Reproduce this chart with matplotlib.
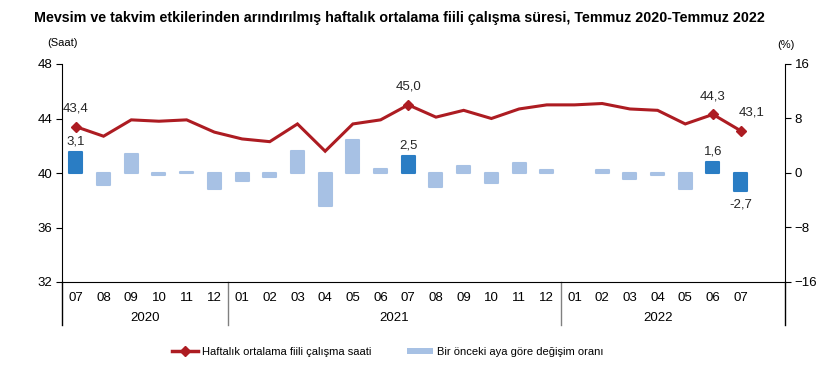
import matplotlib
matplotlib.use("Agg")
import matplotlib.pyplot as plt
import matplotlib.transforms as mtransforms
from matplotlib.lines import Line2D
from matplotlib.patches import Patch

plt.rcParams['font.family'] = ['Liberation Sans', 'DejaVu Sans']

# data
months = ['07', '08', '09', '10', '11', '12',
          '01', '02', '03', '04', '05', '06', '07', '08', '09', '10', '11', '12',
          '01', '02', '03', '04', '05', '06', '07']
years = ['2020', '2021', '2022']
year_spans = [(0, 6), (6, 18), (18, 25)]
hours = [43.4, 42.7, 43.9, 43.8, 43.9, 43.0, 42.5, 42.3, 43.6, 41.6, 43.6, 43.9,
         45.0, 44.1, 44.6, 44.0, 44.7, 45.0, 45.0, 45.1, 44.7, 44.6, 43.6, 44.3, 43.1]
change = [3.1, -1.7, 2.8, -0.3, 0.2, -2.3, -1.2, -0.6, 3.2, -4.8, 4.9, 0.6,
          2.5, -2.1, 1.0, -1.4, 1.5, 0.5, 0.0, 0.4, -0.9, -0.3, -2.3, 1.6, -2.7]
highlight = [0, 12, 23, 24]

line_col = '#AD1C22'
dark_bar = '#2A7DC4'
light_bar = '#A7C1E4'
txt_col = '#262626'

fig = plt.figure(figsize=(8.4, 3.87), dpi=100)
ax = fig.add_axes([62/840, 1-282/387, (785-62)/840, 218/387])
ax2 = ax.twinx()
ax.set_zorder(ax2.get_zorder() + 1)
ax.patch.set_visible(False)

x = list(range(len(months)))
bar_cols = [dark_bar if i in highlight else light_bar for i in x]
bar_lw = [1.5 if v != 0 else 0 for v in change]
ax2.bar(x, change, width=0.47, color=bar_cols, edgecolor=bar_cols,
        linewidth=bar_lw, joinstyle='round')
ax.plot(x, hours, color=line_col, lw=2.2, marker='D', markersize=5.5,
        markevery=highlight, solid_joinstyle='miter')

ax.set_xlim(-0.5, 25.6)
ax.set_ylim(32, 48)
ax.set_yticks([32, 36, 40, 44, 48])
ax2.set_ylim(-16, 16)
ax2.set_yticks([-16, -8, 0, 8, 16])

for a in (ax, ax2):
    a.spines['top'].set_visible(False)
    a.tick_params(axis='y', length=4, width=0.8, labelsize=9.5, colors='black', pad=3)
ax2.spines['bottom'].set_visible(False)
ax2.spines['left'].set_visible(False)
ax.spines['right'].set_visible(False)

ax.set_xticks(x)
ax.set_xticklabels(months, fontsize=9.5)
ax.tick_params(axis='x', length=0, pad=7.5)

# year labels and separators under the axis
trans = mtransforms.blended_transform_factory(ax.transData, ax.transAxes)
for yr, (a0, a1) in zip(years, year_spans):
    ax.text((a0 + a1 - 1) / 2, -0.165, yr, transform=trans, ha='center',
            va='center', fontsize=9.5)
for xs, c in [(-0.5, 'black'), (5.5, '#808080'), (17.5, '#808080'), (25.6, 'black')]:
    ax.add_line(Line2D([xs, xs], [0, -0.197], transform=trans, color=c,
                       lw=1, clip_on=False))

# data labels
for i in highlight:
    dx = 8 if i == 24 else 0
    ax.annotate(f"{hours[i]:.1f}".replace('.', ','), (i, hours[i]),
                xytext=(dx, 13), textcoords='offset points',
                ha='center', va='center', fontsize=9.5, color=txt_col)
    v = change[i]
    off = 7.5 if v > 0 else -9.5
    ax2.annotate(f"{v:.1f}".replace('.', ','), (i, v), xytext=(0, off),
                 textcoords='offset points', ha='center', va='center',
                 fontsize=9.5, color=txt_col)

fig.text(34/840, 1-18/387, 'Mevsim ve takvim etkilerinden arındırılmış haftalık ortalama '
         'fiili çalışma süresi, Temmuz 2020-Temmuz 2022',
         fontsize=10.25, fontweight='bold', ha='left', va='center')
fig.text(62/840, 1-43/387, '(Saat)', fontsize=8, ha='center', va='center')
fig.text(786/840, 1-45/387, '(%)', fontsize=8, ha='center', va='center')

handles = [Line2D([0], [0], color=line_col, lw=2.5, marker='D', markersize=5),
           Patch(facecolor=light_bar, edgecolor='none')]
labels = ['Haftalık ortalama fiili çalışma saati', 'Bir önceki aya göre değişim oranı']
fig.legend(handles, labels, loc='center', bbox_to_anchor=(0.462, 1-352/387),
           ncol=2, frameon=False, fontsize=8, handlelength=2.3,
           handleheight=0.5, columnspacing=3.2, handletextpad=0.4)

fig.savefig('out.png', dpi=100)
